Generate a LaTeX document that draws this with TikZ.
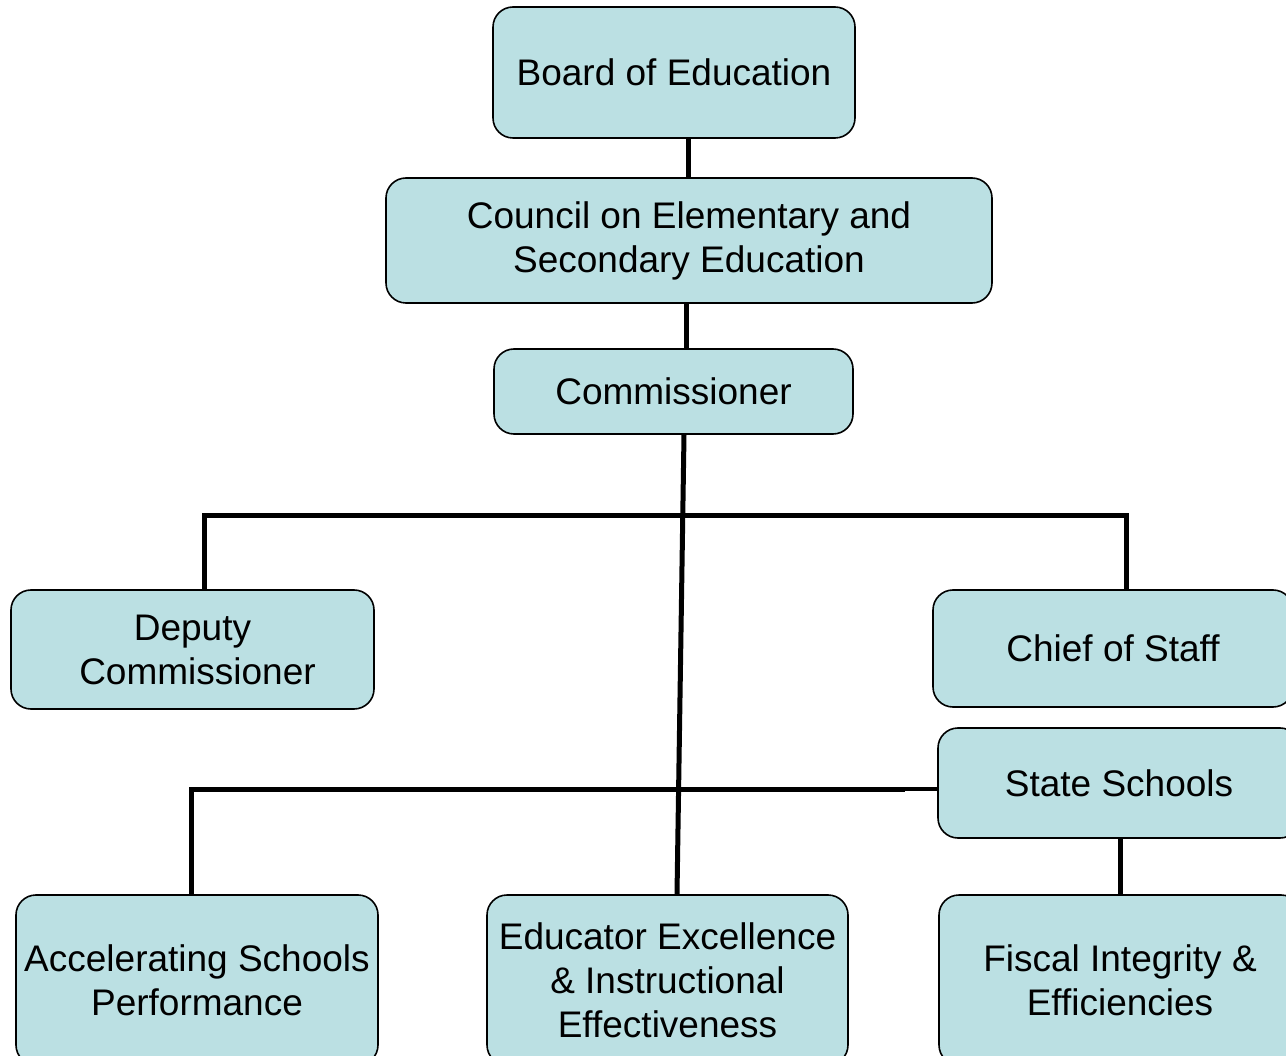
\documentclass[tikz,border=0pt]{standalone}
\usepackage{fontspec}
\setmainfont{Liberation Sans}
\definecolor{boxfill}{HTML}{BBE0E3}
\tikzset{
  orgbox/.style={draw=black, line width=1.6pt, fill=boxfill, rounded corners=20pt,
    align=center, inner sep=0pt, font=\fontsize{37}{44}\selectfont},
  link/.style={draw=black, line width=5pt},
}
\begin{document}
\begin{tikzpicture}[x=1pt,y=-1pt]
\useasboundingbox (0,0) rectangle (1286,1056);
\clip (0,0) rectangle (1286,1056);
\node[orgbox, minimum width=362pt, minimum height=131pt] (board) at (674,72.5) {Board of Education};
\node[orgbox, minimum width=606pt, minimum height=125pt] (council) at (689,240.5) {Council on Elementary and\\Secondary Education};
\node[orgbox, minimum width=359pt, minimum height=85pt] (comm) at (673.5,391.5) {Commissioner};
\node[orgbox, minimum width=363pt, minimum height=119pt] (dep) at (192.5,649.5) {Deputy\\\hspace*{10pt}Commissioner};
\node[orgbox, minimum width=360pt, minimum height=117pt] (chief) at (1113,648.5) {Chief of Staff};
\node[orgbox, minimum width=362pt, minimum height=110pt] (state) at (1119,783) {State Schools};
\node[orgbox, minimum width=362pt, minimum height=170pt] (acc) at (197,980) {Accelerating Schools\\Performance};
\node[orgbox, minimum width=361pt, minimum height=170pt] (edu) at (667.5,980) {Educator Excellence\\\& Instructional\\Effectiveness};
\node[orgbox, minimum width=362pt, minimum height=170pt] (fis) at (1120,980) {Fiscal Integrity \&\\Efficiencies};
\draw[link] (688,0 |- board.south) -- (688,0 |- council.north);
\draw[link] (686,0 |- council.south) -- (686,0 |- comm.north);
\draw[link] (684,0 |- comm.south) -- (677,0 |- edu.north);
\coordinate (jl) at (204,516);
\coordinate (jr) at (1126,516);
\draw[link] (204,0 |- dep.north) -- (jl) -- (jr) -- (1126,0 |- chief.north);
\coordinate (kl) at (191,789);
\coordinate (km) at (905,789);
\draw[link] (191,0 |- acc.north) -- (kl) -- (km);
\draw[draw=black, line width=3.5pt] (km) -- (state.west |- km);
\draw[link] (1120,0 |- state.south) -- (1120,0 |- fis.north);
\end{tikzpicture}
\end{document}
